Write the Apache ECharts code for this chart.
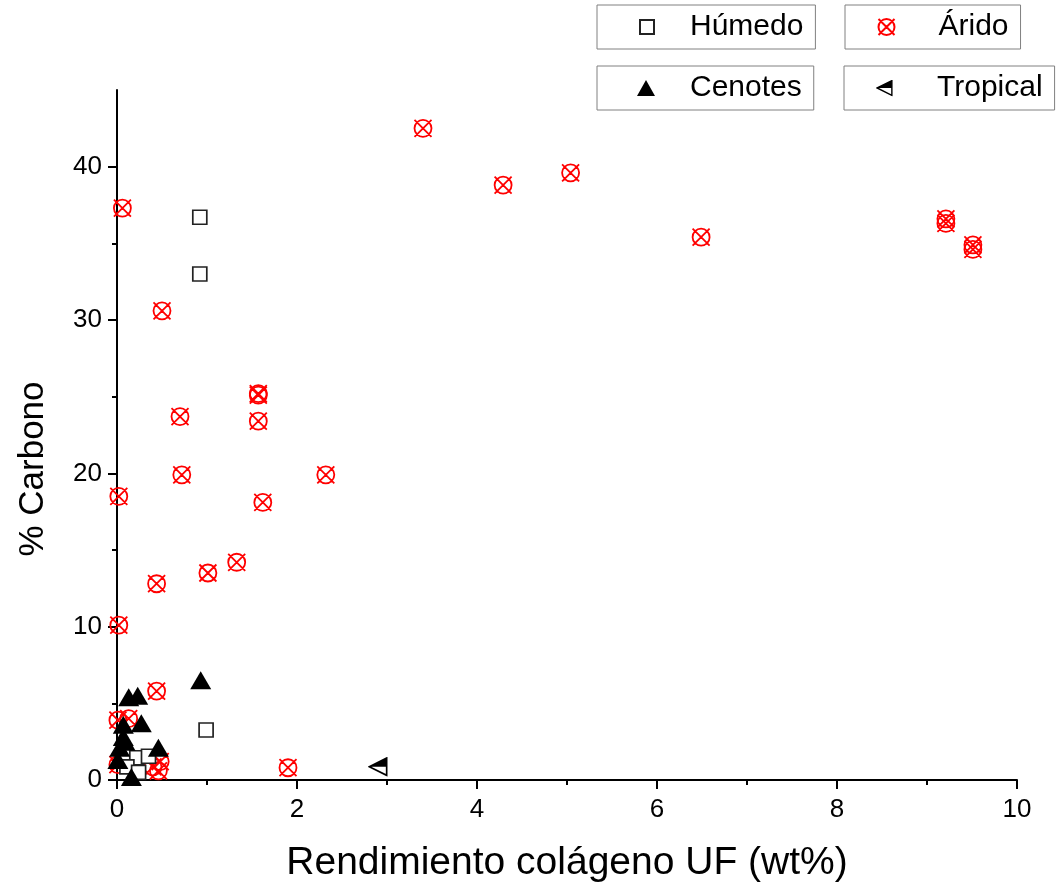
<!DOCTYPE html>
<html>
<head>
<meta charset="utf-8">
<script src="https://cdn.jsdelivr.net/npm/echarts@6/dist/echarts.min.js"></script>
<style>
  html, body { margin: 0; padding: 0; background: #fff; }
  #chart { width: 1063px; height: 894px; }
</style>
</head>
<body>
<div id="chart"></div>
<script>
// Collagen yield (x) versus carbon content (y), grouped by environment
const humedo = [
  [0.92, 36.7], [0.92, 33.0], [0.99, 3.26],
  [0.09, 1.6], [0.22, 1.45], [0.35, 1.55], [0.11, 0.85], [0.24, 0.5]
];
const arido = [
  [0.06, 37.3], [3.40, 42.5], [4.29, 38.8], [5.04, 39.6], [6.49, 35.4],
  [9.21, 36.6], [9.21, 36.3], [9.51, 34.9], [9.51, 34.6],
  [0.50, 30.6], [1.57, 25.2], [1.57, 25.1], [1.57, 23.4], [0.70, 23.7],
  [0.72, 19.9], [2.32, 19.9], [0.02, 18.5], [1.62, 18.1], [1.33, 14.2],
  [1.01, 13.5], [0.44, 12.8], [0.02, 10.1], [0.44, 5.8], [0.13, 4.0],
  [0.01, 3.9], [0.01, 1.0], [1.90, 0.8], [0.40, 0.85], [0.48, 1.2], [0.46, 0.6]
];
const cenotes = [
  [0.93, 6.5], [0.13, 5.4], [0.23, 5.5], [0.27, 3.7], [0.07, 3.6],
  [0.07, 2.8], [0.09, 2.5], [0.03, 2.1], [0.46, 2.1], [0.01, 1.3], [0.16, 0.2]
];
const tropical = [
  [2.90, 0.87]
];

const xTicks = [0, 2, 4, 6, 8, 10];
const yMajorTicks = [0, 10, 20, 30, 40];
const yMinorTicks = [5, 15, 25, 35];

const FONT = '"Liberation Sans", Arial, sans-serif';

// Circle crossed by an X, stroked only
const crossCircle = 'path://M0.8,0.8L9.2,9.2M9.2,0.8L0.8,9.2M9.2,5A4.2,4.2,0,1,1,0.8,5A4.2,4.2,0,1,1,9.2,5Z';
// Left-pointing triangle with its upper half filled
const halfTriSvg = "<svg xmlns='http://www.w3.org/2000/svg' width='30' height='30' viewBox='0 0 30 30'>" +
  "<polygon points='2,15 28,2 28,15' fill='black'/>" +
  "<polygon points='2,15 28,2 28,28' fill='none' stroke='black' stroke-width='2.5' stroke-linejoin='miter'/></svg>";
const halfTri = 'image://data:image/svg+xml;charset=utf-8,' + encodeURIComponent(halfTriSvg);

function legendBox(name, left, top, padLeft, textPad, iw, ih) {
  return {
    data: [name],
    left: left, top: top,
    orient: 'horizontal',
    selectedMode: false,
    padding: [7, 12, 7, padLeft],
    borderColor: '#808080', borderWidth: 1,
    itemWidth: iw, itemHeight: ih,
    textStyle: { fontSize: 30, fontFamily: FONT, color: '#000', padding: [0, 0, 0, textPad] }
  };
}

const chart = echarts.init(document.getElementById('chart'), null, { renderer: 'canvas' });
chart.setOption({
  backgroundColor: '#fff',
  animation: false,
  legend: [
    legendBox('Húmedo', 597, 5, 42, 31, 14, 14),
    legendBox('Árido', 845, 5, 31, 39, 16, 16),
    legendBox('Cenotes', 597, 66, 40, 30, 18, 16),
    legendBox('Tropical', 844, 66, 32, 39, 17, 17)
  ],
  grid: { left: 117, right: 46, top: 90, bottom: 114, containLabel: false, outerBoundsMode: 'none' },
  xAxis: {
    type: 'value', min: 0, max: 10, interval: 2,
    name: 'Rendimiento colágeno UF (wt%)', nameLocation: 'middle', nameGap: 64,
    nameTextStyle: { fontSize: 39, fontFamily: FONT, color: '#000' },
    axisLine: { show: true, onZero: false, lineStyle: { color: '#000', width: 2 } },
    axisTick: { show: true, inside: false, length: 9, lineStyle: { color: '#000', width: 2 } },
    minorTick: { show: true, splitNumber: 2, length: 5, lineStyle: { color: '#000', width: 2 } },
    axisLabel: { fontSize: 26, fontFamily: FONT, color: '#000', margin: 17,
      customValues: xTicks },
    splitLine: { show: false }
  },
  yAxis: [{
    type: 'value', min: 0, max: 45,
    name: '% Carbono', nameLocation: 'middle', nameGap: 66, nameRotate: 90,
    nameTextStyle: { fontSize: 35, fontFamily: FONT, color: '#000', padding: [0, 68, 0, 0] },
    axisLine: { show: true, onZero: false, lineStyle: { color: '#000', width: 2 } },
    axisTick: { show: true, inside: false, length: 9, customValues: yMajorTicks,
      lineStyle: { color: '#000', width: 2 } },
    axisLabel: { fontSize: 26, fontFamily: FONT, color: '#000', margin: 15,
      customValues: yMajorTicks },
    splitLine: { show: false }
  }, {
    // minor ticks only
    type: 'value', min: 0, max: 45, position: 'left',
    axisLine: { show: false },
    axisTick: { show: true, inside: false, length: 5, customValues: yMinorTicks,
      lineStyle: { color: '#000', width: 2 } },
    axisLabel: { show: false },
    splitLine: { show: false }
  }],
  series: [
    {
      name: 'Húmedo', type: 'scatter', data: humedo, z: 3,
      symbol: 'rect', symbolSize: 14,
      itemStyle: { color: '#fff', borderColor: '#222', borderWidth: 1.7, opacity: 1 }
    },
    {
      name: 'Árido', type: 'scatter', data: arido, z: 2,
      symbol: crossCircle, symbolSize: 17,
      itemStyle: { color: 'none', borderColor: '#ff0000', borderWidth: 1.8, opacity: 1 }
    },
    {
      name: 'Cenotes', type: 'scatter', data: cenotes, z: 4,
      symbol: 'triangle', symbolSize: [21, 18],
      itemStyle: { color: '#000', opacity: 1 }
    },
    {
      name: 'Tropical', type: 'scatter', data: tropical, z: 5,
      symbol: halfTri, symbolSize: 20,
      itemStyle: { opacity: 1 }
    }
  ]
});
</script>
</body>
</html>
